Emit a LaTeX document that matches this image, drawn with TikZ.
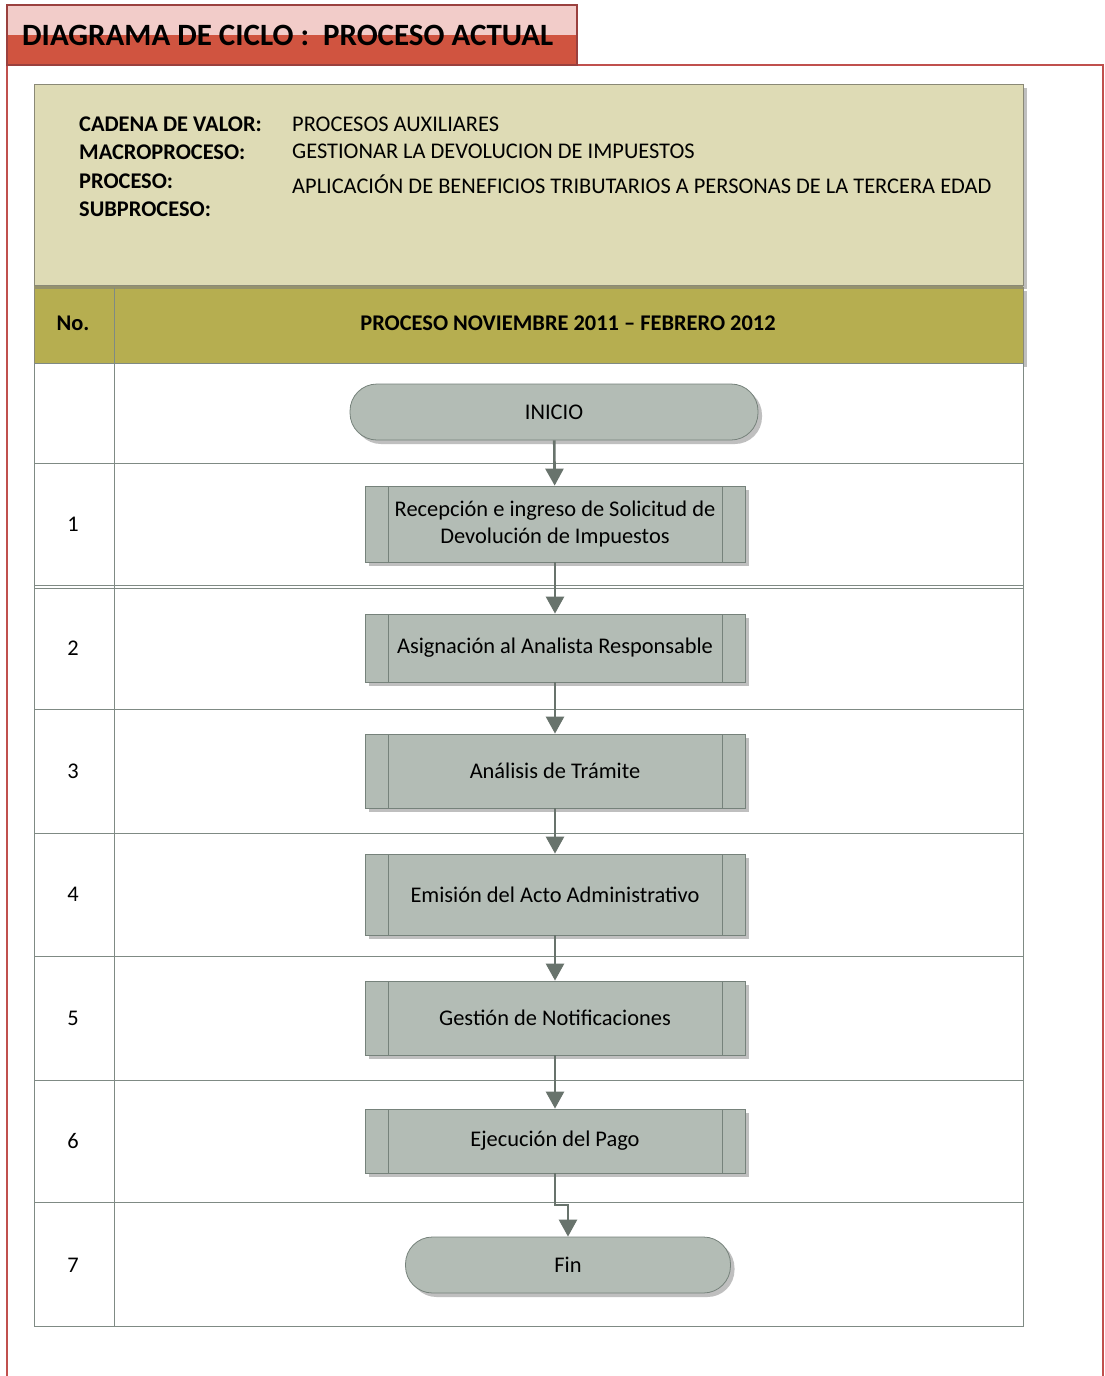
\documentclass[tikz,border=0pt]{standalone}
\usepackage{fontspec}
\setmainfont{Carlito}
\usetikzlibrary{shadows,arrows.meta,calc}

\definecolor{titlepink}{HTML}{F2CCC9}
\definecolor{titlered}{HTML}{D05440}
\definecolor{framered}{HTML}{C0504D}
\definecolor{beige}{HTML}{DEDBB5}
\definecolor{olive}{HTML}{B6AE50}
\definecolor{gridgray}{HTML}{7F8A84}
\definecolor{shapefill}{HTML}{B3BCB5}
\definecolor{shapeline}{HTML}{76827B}
\definecolor{flowgray}{HTML}{68736C}

\tikzset{
  txt/.style={font=\fontsize{22.4}{27}\selectfont, inner sep=0pt},
  hdr/.style={font=\bfseries\fontsize{22.4}{27}\selectfont, inner sep=0pt},
  shade/.style={drop shadow={shadow xshift=4pt, shadow yshift=-4pt, fill=black!25, opacity=1}},
  terminal/.style={draw=shapeline, fill=shapefill, shade, line width=0.8pt,
    rounded corners=27pt, minimum height=56pt, inner sep=0pt,
    font=\fontsize{22.4}{27}\selectfont},
  procbox/.style={draw=shapeline, fill=shapefill, shade, line width=0.8pt,
    minimum width=380pt, inner sep=0pt, align=center,
    font=\fontsize{22.4}{27}\selectfont,
    path picture={
      \draw[shapeline, line width=0.8pt]
        ([xshift=23pt]path picture bounding box.north west) --
        ([xshift=23pt]path picture bounding box.south west);
      \draw[shapeline, line width=0.8pt]
        ([xshift=-23pt]path picture bounding box.north east) --
        ([xshift=-23pt]path picture bounding box.south east);
    }},
  flow/.style={draw=flowgray, line width=2.6pt,
    -{Triangle[length=17pt,width=18pt]}},
  grid/.style={draw=gridgray, line width=0.9pt}
}

\begin{document}
\begin{tikzpicture}[x=1pt,y=-1pt]
\useasboundingbox (0,0) rectangle (1105,1376);
\fill[white] (0,0) rectangle (1105,1376);

% outer frame
\draw[framered, line width=1.2pt] (7,1376) -- (7,65) -- (1103,65) -- (1103,1376);

% title tab
\fill[titlepink] (7,5) rectangle (577,35);
\fill[titlered] (7,35) rectangle (577,65);
\draw[framered!80!black, line width=1.2pt] (7,5) rectangle (577,65);
\node[font=\bfseries\fontsize{31}{36}\selectfont, inner sep=0pt, anchor=west]
  (title) at (22,35) {DIAGRAMA DE CICLO :\ \ PROCESO ACTUAL};

% header block
\fill[black!25] (1023,88) rectangle (1027,289);
\draw[draw=gray!80!olive, fill=beige, line width=0.9pt] (34,84) rectangle (1023,285);
\fill[black!25] (1023,291) rectangle (1027,367);
\draw[draw=gray!80!olive, fill=olive, line width=0.9pt] (34,287) rectangle (1023,363);
\draw[draw=gray!60!olive, line width=3pt] (34,287) -- (1023,287);

\node[hdr, anchor=west] (l1) at (79,124) {CADENA DE VALOR:};
\node[hdr, anchor=west] (l2) at (79,152) {MACROPROCESO:};
\node[hdr, anchor=west] (l3) at (79,181) {PROCESO:};
\node[hdr, anchor=west] (l4) at (79,209) {SUBPROCESO:};
\node[txt, anchor=west] (v1) at (292,124) {PROCESOS AUXILIARES};
\node[txt, anchor=west] (v2) at (292,151) {GESTIONAR LA DEVOLUCION DE IMPUESTOS};
\node[txt, anchor=west] (v3) at (292,184) {APLICACIÓN DE BENEFICIOS TRIBUTARIOS A PERSONAS DE LA TERCERA EDAD};

\node[hdr] (colno) at (73,323) {No.};
\node[hdr] (colproc) at (568,323) {PROCESO NOVIEMBRE 2011 – FEBRERO 2012};

% table grid
\draw[grid] (34,363) rectangle (1023,1326);
\draw[grid] (114,288) -- (114,1326);
\foreach \yy in {463,585,588,709,833,956,1080,1202}
  \draw[grid] (34,\yy) -- (1023,\yy);

% step numbers
\foreach \n/\yy in {1/524,2/648,3/771,4/894,5/1018,6/1141,7/1265}
  \node[txt] (num\n) at (73,\yy) {\n};

% flow shapes
\node[terminal, minimum width=408pt] (inicio) at (554,412) {INICIO};
\node[procbox, minimum height=76pt] (b1) at (555,524)
  {Recepción e ingreso de Solicitud de\\Devolución de Impuestos};
\node[procbox, minimum height=68pt] (b2) at (555,648) {Asignación al Analista Responsable};
\node[procbox, minimum height=74pt] (b3) at (555,771) {Análisis de Trámite};
\node[procbox, minimum height=81pt] (b4) at (555,894.5) {Emisión del Acto Administrativo};
\node[procbox, minimum height=74pt] (b5) at (555,1018) {Gestión de Notificaciones};
\node[procbox, minimum height=64pt] (b6) at (555,1141) {Ejecución del Pago};
\node[terminal, minimum width=325pt] (fin) at (568,1265) {Fin};

% connectors
\draw[flow] (inicio) -- (b1);
\draw[flow] (b1) -- (b2);
\draw[flow] (b2) -- (b3);
\draw[flow] (b3) -- (b4);
\draw[flow] (b4) -- (b5);
\draw[flow] (b5) -- (b6);
\draw[flow] (b6.south) |- ($(b6.south)!0.5!(fin.north)$) -| (fin.north);
\end{tikzpicture}
\end{document}
